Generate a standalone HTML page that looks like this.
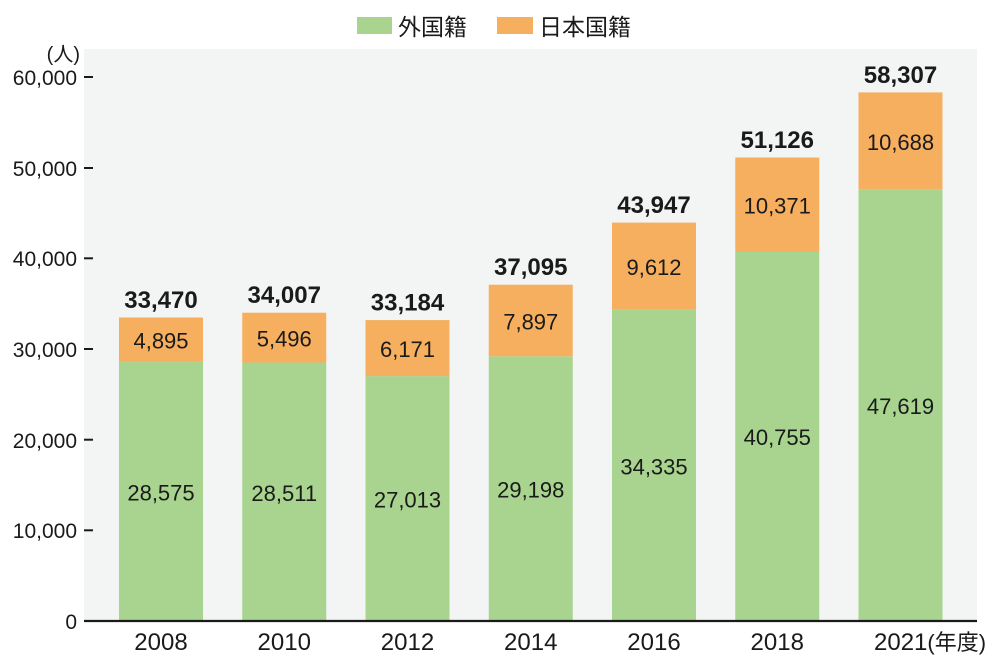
<!DOCTYPE html>
<html>
<head>
<meta charset="utf-8">
<style>
html,body{margin:0;padding:0;background:#ffffff;}
svg{display:block;}
text{font-family:"Liberation Sans","Noto Sans CJK JP",sans-serif;fill:#1a1a1a;}
</style>
</head>
<body>
<svg width="1000" height="667" viewBox="0 0 1000 667" xmlns="http://www.w3.org/2000/svg">
  <!-- legend -->
  <rect x="357" y="17" width="35" height="17" fill="#a8d48f"/>
  <text x="398" y="35" font-size="23">外国籍</text>
  <rect x="497" y="17" width="36" height="17" fill="#f6ae5f"/>
  <text x="539" y="35" font-size="23">日本国籍</text>

  <!-- plot background -->
  <rect x="84" y="49" width="893" height="572" fill="#f3f5f5"/>

  <!-- y axis labels -->
  <text x="80" y="61" font-size="20" text-anchor="end">(人)</text>
  <g font-size="21" text-anchor="end">
    <text x="77" y="85">60,000</text>
    <text x="77" y="176">50,000</text>
    <text x="77" y="266">40,000</text>
    <text x="77" y="357">30,000</text>
    <text x="77" y="448">20,000</text>
    <text x="77" y="538">10,000</text>
    <text x="77" y="629">0</text>
  </g>
  <g stroke="#1a1a1a" stroke-width="2">
    <line x1="84" y1="77" x2="93" y2="77"/>
    <line x1="84" y1="168" x2="93" y2="168"/>
    <line x1="84" y1="258.3" x2="93" y2="258.3"/>
    <line x1="84" y1="349" x2="93" y2="349"/>
    <line x1="84" y1="439.7" x2="93" y2="439.7"/>
    <line x1="84" y1="530.3" x2="93" y2="530.3"/>
  </g>

  <!-- bars -->
  <g>
    <!-- 2008 -->
    <rect x="119" y="361.9" width="84" height="259.1" fill="#a8d48f"/>
    <rect x="119" y="317.5" width="84" height="44.4" fill="#f6ae5f"/>
    <!-- 2010 -->
    <rect x="242.25" y="362.5" width="84" height="258.5" fill="#a8d48f"/>
    <rect x="242.25" y="312.7" width="84" height="49.8" fill="#f6ae5f"/>
    <!-- 2012 -->
    <rect x="365.5" y="376.1" width="84" height="244.9" fill="#a8d48f"/>
    <rect x="365.5" y="320.1" width="84" height="56" fill="#f6ae5f"/>
    <!-- 2014 -->
    <rect x="488.75" y="356.3" width="84" height="264.7" fill="#a8d48f"/>
    <rect x="488.75" y="284.7" width="84" height="71.6" fill="#f6ae5f"/>
    <!-- 2016 -->
    <rect x="612" y="309.7" width="84" height="311.3" fill="#a8d48f"/>
    <rect x="612" y="222.6" width="84" height="87.1" fill="#f6ae5f"/>
    <!-- 2018 -->
    <rect x="735.25" y="251.5" width="84" height="369.5" fill="#a8d48f"/>
    <rect x="735.25" y="157.5" width="84" height="94" fill="#f6ae5f"/>
    <!-- 2021 -->
    <rect x="858.5" y="189.3" width="84" height="431.7" fill="#a8d48f"/>
    <rect x="858.5" y="92.4" width="84" height="96.9" fill="#f6ae5f"/>
  </g>

  <!-- axis line -->
  <line x1="84" y1="621" x2="977" y2="621" stroke="#1a1a1a" stroke-width="2.2"/>

  <!-- segment labels -->
  <g font-size="22" text-anchor="middle">
    <text x="161" y="500.5">28,575</text>
    <text x="161" y="348.5">4,895</text>
    <text x="284.25" y="501">28,511</text>
    <text x="284.25" y="346.5">5,496</text>
    <text x="407.5" y="507.5">27,013</text>
    <text x="407.5" y="357">6,171</text>
    <text x="530.75" y="497.5">29,198</text>
    <text x="530.75" y="329.5">7,897</text>
    <text x="654" y="474.5">34,335</text>
    <text x="654" y="275">9,612</text>
    <text x="777.25" y="445">40,755</text>
    <text x="777.25" y="213.5">10,371</text>
    <text x="900.5" y="414">47,619</text>
    <text x="900.5" y="150">10,688</text>
  </g>

  <!-- totals -->
  <g font-size="24" font-weight="bold" text-anchor="middle">
    <text x="161" y="308">33,470</text>
    <text x="284.25" y="303">34,007</text>
    <text x="407.5" y="310.5">33,184</text>
    <text x="530.75" y="275">37,095</text>
    <text x="654" y="213">43,947</text>
    <text x="777.25" y="148">51,126</text>
    <text x="900.5" y="83">58,307</text>
  </g>

  <!-- x labels -->
  <g font-size="24" text-anchor="middle">
    <text x="161" y="650">2008</text>
    <text x="284.25" y="650">2010</text>
    <text x="407.5" y="650">2012</text>
    <text x="530.75" y="650">2014</text>
    <text x="654" y="650">2016</text>
    <text x="777.25" y="650">2018</text>
  </g>
  <text x="874" y="650" font-size="24">2021<tspan font-size="22">(年度)</tspan></text>
</svg>
</body>
</html>
